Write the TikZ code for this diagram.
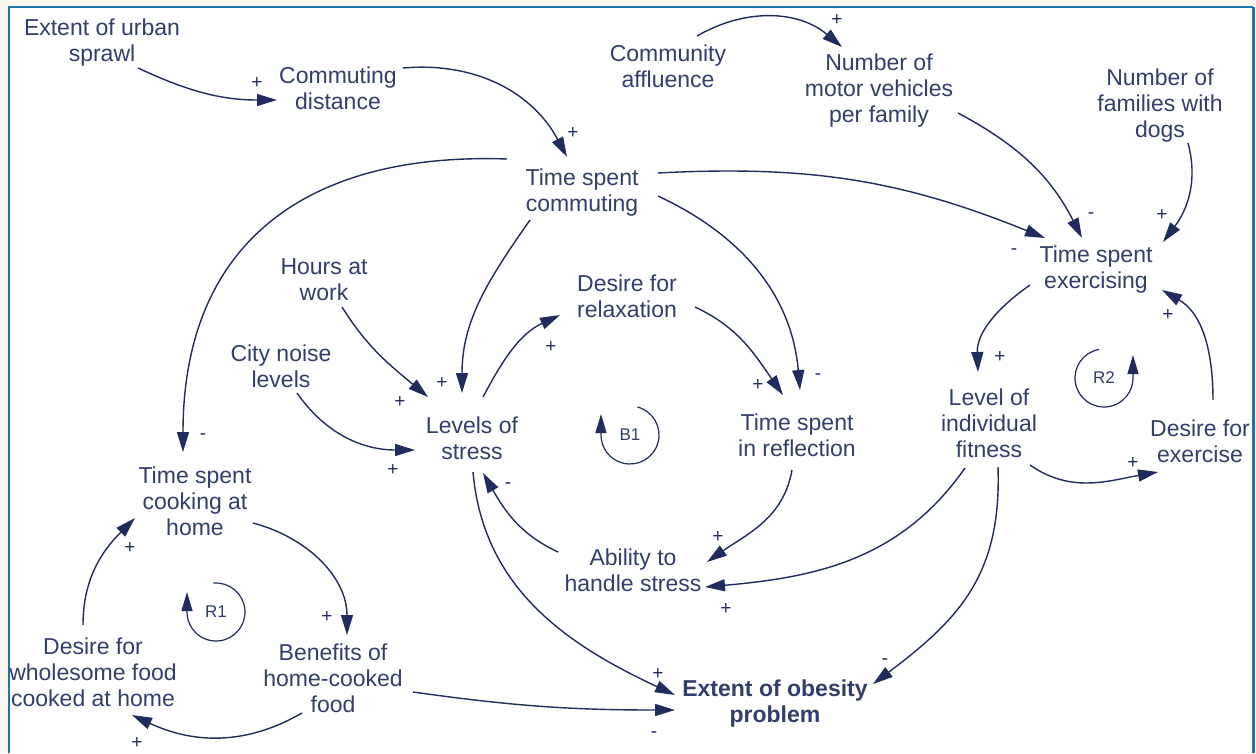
\documentclass[tikz,border=0pt]{standalone}
\usepackage{fontspec}
\setmainfont{Liberation Sans}
\usetikzlibrary{arrows.meta}
\definecolor{ink}{HTML}{323E6C}
\definecolor{wire}{HTML}{202C5E}
\definecolor{paper}{HTML}{FCF8F1}
\definecolor{framecol}{HTML}{1D76A9}
\tikzset{
  var/.style={align=center, text=ink, font=\fontsize{23}{26}\selectfont, inner sep=0pt},
  link/.style={draw=wire, line width=1.4pt, -{Triangle[length=20pt,width=12pt]}},
  sgn/.style={text=wire, font=\fontsize{19}{19}\selectfont, inner sep=0pt},
  loopname/.style={text=ink, font=\fontsize{17}{17}\selectfont, inner sep=0pt},
  looparc/.style={draw=wire, line width=1.2pt, -{Triangle[length=19pt,width=11pt]}},
}
\begin{document}
\begin{tikzpicture}[x=1pt,y=1pt]
\useasboundingbox (0,0) rectangle (1256,-753);
% page and frame
\fill[paper] (0,0) rectangle (1256,-753);
\fill[white] (9,-7) rectangle (1253,-753);

% variables
\node[var] (urban)   at (102,-43)  {Extent of urban\\sprawl};
\node[var] (cdist)   at (338,-88)  {Commuting\\distance};
\node[var] (affl)    at (668,-66)  {Community\\affluence};
\node[var] (vehic)   at (879,-91)  {Number of\\motor vehicles\\per family};
\node[var] (dogs)    at (1160,-106){Number of\\families with\\dogs};
\node[var] (tcomm)   at (582,-193) {Time spent\\commuting};
\node[var] (texer)   at (1096,-270){Time spent\\exercising};
\node[var] (hours)   at (324,-280) {Hours at\\work};
\node[var] (relax)   at (627,-296) {Desire for\\relaxation};
\node[var] (noise)   at (281,-366) {City noise\\levels};
\node[var] (stress)  at (472,-438) {Levels of\\stress};
\node[var] (reflect) at (797,-435) {Time spent\\in reflection};
\node[var] (fitness) at (989,-423) {Level of\\individual\\fitness};
\node[var] (dexer)   at (1200,-441){Desire for\\exercise};
\node[var] (cook)    at (195,-501) {Time spent\\cooking at\\home};
\node[var] (ability) at (633,-570) {Ability to\\handle stress};
\node[var] (whole)   at (93,-672)  {Desire for\\wholesome food\\cooked at home};
\node[var] (benef)   at (333,-678) {Benefits of\\home-cooked\\food};
\node[var, font=\fontsize{23}{26}\selectfont\bfseries] (obesity) at (775,-704) {Extent of obesity\\problem};

% frame drawn over the text that runs up to it
\draw[framecol, line width=2pt] (9,-753) -- (9,-7) -- (1253,-7);
\draw[framecol, line width=3pt] (1253,-7) -- (1253,-753);

% causal links
\draw[link] ([shift={(36,-25)}]urban.center) to[out=-25,in=180] ([shift={(-61,-12)}]cdist.center);
\draw[link] ([shift={(65,20)}]cdist.center) to[out=5,in=118] ([shift={(-15,36)}]tcomm.center);
\draw[link] ([shift={(29,30)}]affl.center) to[out=30,in=140] ([shift={(-37,44)}]vehic.center);
\draw[link] ([shift={(79,-22)}]vehic.center) to[out=-28,in=117] ([shift={(-14,32)}]texer.center);
\draw[link] ([shift={(28,-37)}]dogs.center) to[out=-75,in=53] ([shift={(67,28)}]texer.center);
\draw[link] ([shift={(76,20)}]tcomm.center) to[out=3,in=158] ([shift={(-51,32)}]texer.center);
\draw[link] ([shift={(-52,-27)}]tcomm.center) to[out=-125,in=90] ([shift={(-10,45)}]stress.center);
\draw[link] ([shift={(76,-3)}]tcomm.center) to[out=-25,in=95] ([shift={(3,45)}]reflect.center);
\draw[link] ([shift={(-75,34)}]tcomm.center) to[out=178,in=90,looseness=1.2] ([shift={(-12,49)}]cook.center);
\draw[link] ([shift={(18,-27)}]hours.center) to[out=-58,in=140] ([shift={(-44,41)}]stress.center);
\draw[link] ([shift={(16,-27)}]noise.center) to[out=-55,in=180] ([shift={(-57,-12)}]stress.center);
\draw[link] ([shift={(11,41)}]stress.center) to[out=62,in=205] ([shift={(-67,-19)}]relax.center);
\draw[link] ([shift={(68,-11)}]relax.center) to[out=-25,in=125] ([shift={(-14,40)}]reflect.center);
\draw[link] ([shift={(-5,-35)}]reflect.center) to[out=-100,in=35] ([shift={(74,8)}]ability.center);
\draw[link] ([shift={(-75,18)}]ability.center) to[out=155,in=-60] ([shift={(11,-35)}]stress.center);
\draw[link] ([shift={(-24,-45)}]fitness.center) to[out=-125,in=5] ([shift={(72,-17)}]ability.center);
\draw[link] ([shift={(9,-44)}]fitness.center) to[out=-88,in=37,looseness=1.1] ([shift={(98,20)}]obesity.center);
\draw[link] ([shift={(1,-34)}]stress.center) to[out=-85,in=155] ([shift={(-100,9)}]obesity.center);
\draw[link] ([shift={(80,-14)}]benef.center) to[out=-8,in=180] ([shift={(-100,-6)}]obesity.center);
\draw[link] ([shift={(-66,-15)}]texer.center) to[out=-145,in=92] ([shift={(-11,51)}]fitness.center);
\draw[link] ([shift={(41,-42)}]fitness.center) to[out=-35,in=190] ([shift={(-42,-31)}]dexer.center);
\draw[link] ([shift={(13,41)}]dexer.center) to[out=90,in=-30] ([shift={(66,-20)}]texer.center);
\draw[link] ([shift={(58,-22)}]cook.center) to[out=-15,in=90] ([shift={(14,43)}]benef.center);
\draw[link] ([shift={(-31,-35)}]benef.center) to[out=-150,in=-25] ([shift={(39,-43)}]whole.center);
\draw[link] ([shift={(-10,47)}]whole.center) to[out=90,in=-135] ([shift={(-60,-17)}]cook.center);

% polarities
\node[sgn] (sa) at (257,-83)  {+};
\node[sgn] (sb) at (573,-133) {+};
\node[sgn] (sc) at (837,-20)  {+};
\node[sgn] (sd) at (1091,-216){-};
\node[sgn] (se) at (1162,-215){+};
\node[sgn] (sf) at (1014,-252){-};
\node[sgn] (sg) at (442,-383) {+};
\node[sgn] (sh) at (818,-377) {-};
\node[sgn] (si) at (203,-437) {-};
\node[sgn] (sj) at (400,-402) {+};
\node[sgn] (sk) at (393,-470) {+};
\node[sgn] (sl) at (551,-347) {+};
\node[sgn] (sm) at (758,-385) {+};
\node[sgn] (sn) at (718,-537) {+};
\node[sgn] (so) at (508,-486) {-};
\node[sgn] (sp) at (726,-609) {+};
\node[sgn] (sq) at (885,-662) {-};
\node[sgn] (sr) at (658,-674) {+};
\node[sgn] (ss) at (654,-735) {-};
\node[sgn] (st) at (1000,-357){+};
\node[sgn] (su) at (1133,-463){+};
\node[sgn] (sv) at (1168,-315){+};
\node[sgn] (sw) at (327,-617) {+};
\node[sgn] (sx) at (137,-743) {+};
\node[sgn] (sy) at (130,-548) {+};

% loop markers
\node[loopname] (b1) at (630,-435) {B1};
\draw[looparc] ([shift={(75:29)}]b1.center) arc[start angle=75,end angle=-180,radius=29] -- ++(0,21);
\node[loopname] (r1) at (216,-612) {R1};
\draw[looparc] ([shift={(95:29)}]r1.center) arc[start angle=95,end angle=-180,radius=29] -- ++(0,20);
\node[loopname] (r2) at (1104,-378) {R2};
\draw[looparc] ([shift={(100:29)}]r2.center) arc[start angle=100,end angle=360,radius=29] -- ++(0,23);
\end{tikzpicture}
\end{document}
